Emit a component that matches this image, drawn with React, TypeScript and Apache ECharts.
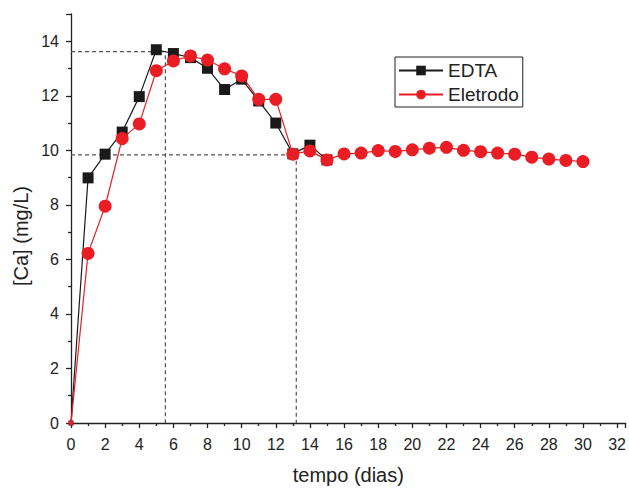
import React, { useEffect, useRef } from "react";
import * as echarts from "echarts";

const days = [0, 1, 2, 3, 4, 5, 6, 7, 8, 9, 10, 11, 12, 13, 14, 15, 16, 17, 18, 19, 20, 21, 22, 23, 24, 25, 26, 27, 28, 29, 30];
const edta = [0, 8.99, 9.86, 10.67, 11.97, 13.69, 13.55, 13.4, 13.01, 12.23, 12.61, 11.81, 11.0, 9.87, 10.19, 9.65];
const eletrodo = [0, 6.22, 7.95, 10.43, 10.97, 12.92, 13.28, 13.46, 13.31, 12.99, 12.73, 11.87, 11.87, 9.86, 9.98, 9.65, 9.87, 9.9, 9.99, 9.96, 10.02, 10.08, 10.11, 10.0, 9.95, 9.9, 9.86, 9.75, 9.68, 9.63, 9.59];
const guide1 = [[0, 13.62], [5.53, 13.62], [5.53, 0]];
const guide2 = [[0, 9.83], [13.2, 9.83], [13.2, 0]];
const yTitle = "[Ca] (mg/L)";
const xTitle = "tempo (dias)";

const FONT = "Liberation Sans, Arial, sans-serif";

export default function App() {
  const ref = useRef<HTMLDivElement>(null);
  useEffect(() => {
    if (!ref.current) return;
    const chart = echarts.init(ref.current, undefined, { renderer: "svg" });
    const mk = (xs: number[], ys: number[]) => ys.map((v, i) => [xs[i], v]);
    chart.setOption({
      animation: false,
      backgroundColor: "#fff",
      textStyle: { fontFamily: FONT },
      grid: { left: 71, right: 1, top: 14, bottom: 59 },
      graphic: [
        {
          type: "text",
          x: 21,
          y: 236,
          rotation: Math.PI / 2,
          style: {
            text: yTitle,
            fontFamily: FONT,
            fontSize: 20,
            fill: "#222",
            align: "center",
            verticalAlign: "middle",
          },
        },
      ],
      legend: {
        left: 395,
        top: 57,
        orient: "vertical",
        itemWidth: 44,
        itemHeight: 12,
        itemGap: 5,
        padding: [4, 4, 3, 3],
        borderColor: "#222",
        borderWidth: 1,
        textStyle: { fontFamily: FONT, fontSize: 19, color: "#222" },
        data: ["EDTA", "Eletrodo"],
      },
      xAxis: {
        type: "value",
        min: 0,
        max: 32.5,
        interval: 2,
        name: xTitle,
        nameLocation: "middle",
        nameGap: 42,
        nameTextStyle: { fontFamily: FONT, fontSize: 20, color: "#222" },
        axisLine: { show: true, onZero: false, lineStyle: { color: "#222", width: 1.3 } },
        axisTick: { show: true, length: 5, lineStyle: { color: "#222", width: 1.3 } },
        minorTick: { show: true, splitNumber: 2, length: 3, lineStyle: { color: "#222", width: 1.3 } },
        axisLabel: { fontFamily: FONT, fontSize: 16, color: "#222", margin: 13, showMaxLabel: false },
        splitLine: { show: false },
      },
      yAxis: {
        type: "value",
        min: 0,
        max: 15,
        interval: 2,
        axisLine: { show: true, lineStyle: { color: "#222", width: 1.3 } },
        axisTick: { show: true, length: 5, lineStyle: { color: "#222", width: 1.3 } },
        minorTick: { show: true, splitNumber: 2, length: 3, lineStyle: { color: "#222", width: 1.3 } },
        axisLabel: { fontFamily: FONT, fontSize: 16, color: "#222", margin: 12, showMaxLabel: false },
        splitLine: { show: false },
      },
      series: [
        {
          type: "line",
          data: guide1,
          symbol: "none",
          silent: true,
          lineStyle: { color: "#555", width: 1.2, type: [4, 3] },
          z: 1,
        },
        {
          type: "line",
          data: guide2,
          symbol: "none",
          silent: true,
          lineStyle: { color: "#555", width: 1.2, type: [4, 3] },
          z: 1,
        },
        {
          name: "EDTA",
          type: "line",
          data: mk(days, edta).map((p, i) => (i === 0 ? { value: p, symbolSize: 5 } : p)),
          symbol: "rect",
          symbolSize: 11,
          clip: false,
          color: "#1a1a1a",
          itemStyle: { color: "#1a1a1a" },
          lineStyle: { color: "#1a1a1a", width: 1.2 },
          z: 3,
        },
        {
          name: "Eletrodo",
          type: "line",
          data: mk(days, eletrodo).map((p, i) => (i === 0 ? { value: p, symbolSize: 5 } : p)),
          symbol: "circle",
          symbolSize: 13,
          clip: false,
          color: "#ea1c24",
          itemStyle: { color: "#ea1c24" },
          lineStyle: { color: "#ea1c24", width: 1.2 },
          z: 4,
        },
      ],
    });
    return () => chart.dispose();
  }, []);
  return <div ref={ref} style={{ position: "absolute", left: 0, top: 0, width: 629, height: 490 }} />;
}
